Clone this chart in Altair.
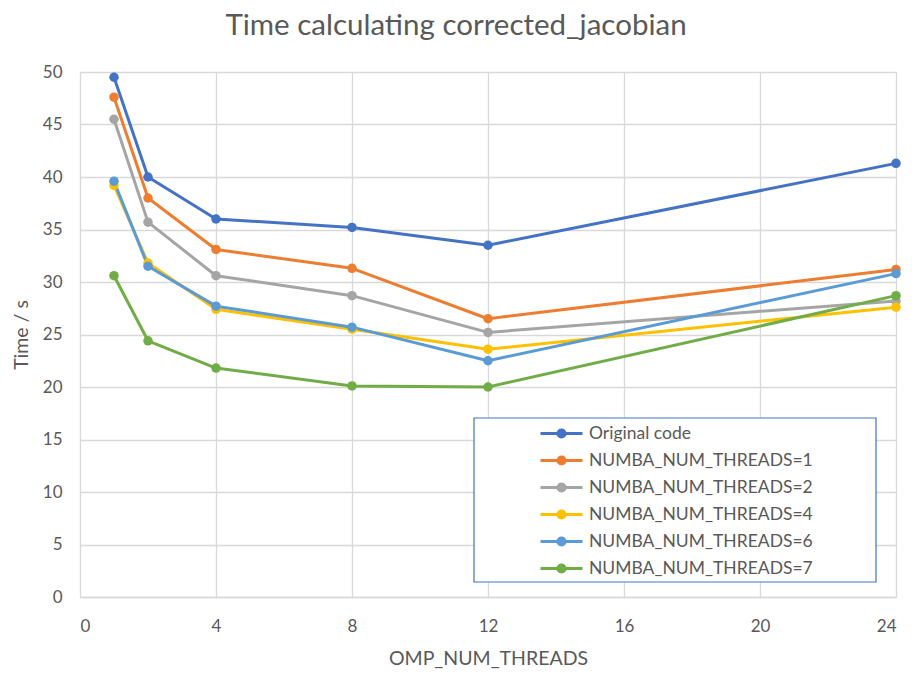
import altair as alt
import pandas as pd

threads = [1, 2, 4, 8, 12, 24]
series_names = [
    "Original code",
    "NUMBA_NUM_THREADS=1",
    "NUMBA_NUM_THREADS=2",
    "NUMBA_NUM_THREADS=4",
    "NUMBA_NUM_THREADS=6",
    "NUMBA_NUM_THREADS=7",
]
original = [49.5, 40.0, 36.0, 35.2, 33.5, 41.3]
numba_1 = [47.6, 38.0, 33.1, 31.3, 26.5, 31.2]
numba_2 = [45.5, 35.7, 30.6, 28.7, 25.2, 28.2]
numba_4 = [39.2, 31.8, 27.4, 25.5, 23.6, 27.6]
numba_6 = [39.6, 31.5, 27.7, 25.7, 22.5, 30.8]
numba_7 = [30.6, 24.4, 21.8, 20.1, 20.0, 28.7]
colors = ["#4472C4", "#ED7D31", "#A5A5A5", "#FFC000", "#5B9BD5", "#70AD47"]
x_ticks = [0, 4, 8, 12, 16, 20, 24]
y_ticks = [0, 5, 10, 15, 20, 25, 30, 35, 40, 45, 50]

rows = []
for name, vals in zip(series_names, [original, numba_1, numba_2, numba_4, numba_6, numba_7]):
    for t, v in zip(threads, vals):
        rows.append({"threads": t, "time": v, "series": name})
df = pd.DataFrame(rows)

FONT = "Lato"
GREY = "#595959"

symbol_path = (
    "M-1.75,0H1.75 "
    "M0.08,0A0.08,0.08,0,1,1,-0.08,0A0.08,0.08,0,1,1,0.08,0 "
    "M0.2,0A0.2,0.2,0,1,1,-0.2,0A0.2,0.2,0,1,1,0.2,0 "
    "M0.3,0A0.3,0.3,0,1,1,-0.3,0A0.3,0.3,0,1,1,0.3,0"
)

legend = alt.Legend(
    title=None,
    orient="none",
    legendX=394,
    legendY=346,
    padding=2,
    rowPadding=3,
    symbolType=symbol_path,
    symbolSize=576,
    symbolStrokeWidth=3,
    symbolOffset=72,
    labelOffset=14,
    labelLimit=700,
    labelFont=FONT,
    labelFontSize=17.5,
    labelColor=GREY,
)

color = alt.Color(
    "series:N",
    scale=alt.Scale(domain=series_names, range=colors),
    legend=legend,
)

x = alt.X(
    "threads:Q",
    scale=alt.Scale(domain=[0, 24], nice=False),
    axis=alt.Axis(
        values=x_ticks,
        title="OMP_NUM_THREADS",
        labelPadding=21,
        titlePadding=15,
        domain=True,
        domainColor="#d9d9d9",
        domainWidth=1.5,
    ),
)
y = alt.Y(
    "time:Q",
    scale=alt.Scale(domain=[0, 50], nice=False),
    axis=alt.Axis(
        values=y_ticks,
        title="Time / s",
        labelPadding=18,
        domain=False,
        titleX=-49,
    ),
)

lines = alt.Chart(df).mark_line(
    strokeWidth=3, strokeJoin="round", strokeCap="round"
).encode(x=x, y=y, color=color)
points = alt.Chart(df).mark_circle(size=90, opacity=1).encode(x=x, y=y, color=color)

# white legend frame (decoration behind the legend entries)
legend_frame = alt.Chart(alt.Data(values=[{"frame": 1}])).mark_rect(
    fill="white", stroke="#4472C4", strokeWidth=1.2
).encode(
    x=alt.value(394), x2=alt.value(796), y=alt.value(346), y2=alt.value(510)
)

chart = (
    alt.layer(lines, points, legend_frame)
    .properties(
        width=816,
        height=525,
        autosize=alt.AutoSizeParams(type="none"),
        padding={"left": 80, "top": 72, "right": 16, "bottom": 78},
        title=alt.TitleParams(
            "Time calculating corrected_jacobian",
            font=FONT,
            fontSize=29.5,
            fontWeight="normal",
            color=GREY,
            anchor="middle",
            dx=-32,
            offset=22,
        ),
    )
    .configure_axis(
        grid=True,
        gridColor="#d9d9d9",
        gridWidth=1.3,
        ticks=False,
        labelFont=FONT,
        labelFontSize=17,
        labelColor=GREY,
        titleFont=FONT,
        titleFontSize=19.5,
        titleFontWeight="normal",
        titleColor=GREY,
    )
    .configure_view(stroke=None)
)

chart.save("out.html", embed_options={"renderer": "svg", "actions": False})
